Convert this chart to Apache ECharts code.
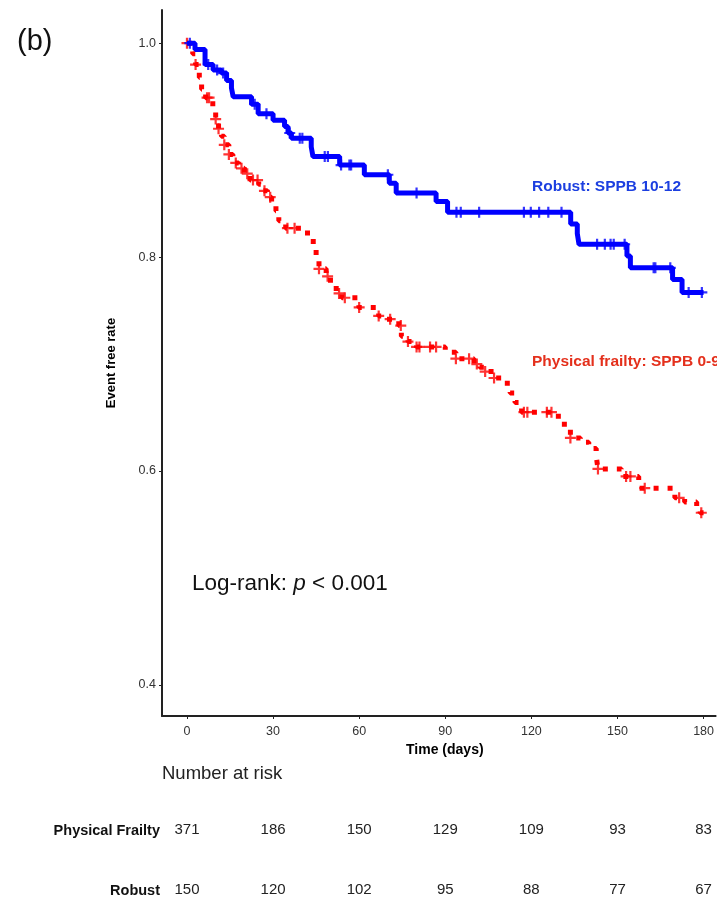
<!DOCTYPE html>
<html>
<head>
<meta charset="utf-8">
<script src="https://cdn.jsdelivr.net/npm/echarts@6/dist/echarts.min.js"></script>
<style>
  html, body { margin: 0; padding: 0; background: #fff; }
  #chart { width: 717px; height: 905px; }
</style>
</head>
<body>
<div id="chart"></div>
<script>
// tick positions on the time axis (days)
const timeTicks = [0, 30, 60, 90, 120, 150, 180];
const rateTicks = [0.4, 0.6, 0.8, 1.0];

// Kaplan-Meier steps: [day, event free rate after the drop]
const frailtySteps = [
  [0, 1.0], [2, 0.990], [3, 0.980], [4.3, 0.968], [5.1, 0.957], [6.5, 0.949],
  [9, 0.940], [10, 0.929], [11, 0.920], [12, 0.913], [13, 0.905], [14.6, 0.896],
  [16, 0.888], [18, 0.883], [20, 0.878], [22, 0.872], [25, 0.868], [26.5, 0.862],
  [28, 0.856], [29.5, 0.851], [31, 0.843], [32, 0.834], [34.4, 0.827], [42, 0.818],
  [44, 0.810], [45, 0.799], [46, 0.789], [48.5, 0.782], [50, 0.775], [52, 0.766],
  [54, 0.762], [59.9, 0.753], [66.8, 0.745], [69, 0.742], [73.8, 0.736], [74.7, 0.726],
  [77, 0.721], [80, 0.716], [90, 0.711], [93.7, 0.705], [100, 0.700], [102, 0.697],
  [103.9, 0.693], [107, 0.687], [110.5, 0.682], [112.6, 0.673], [114.3, 0.664],
  [116.6, 0.655], [129.4, 0.648], [131.5, 0.640], [133.6, 0.631], [137.1, 0.627],
  [140, 0.621], [142.6, 0.614], [143.2, 0.602], [151.4, 0.595], [157.4, 0.584],
  [170, 0.575], [173.4, 0.571], [177.6, 0.567], [178.8, 0.561], [180, 0.561]
];
const robustSteps = [
  [0, 1.0], [2.8, 0.994], [6.3, 0.980], [9.1, 0.975], [12, 0.972], [13.8, 0.965],
  [15.5, 0.958], [16.1, 0.950], [22.5, 0.943], [24.8, 0.934], [30, 0.928], [34, 0.922],
  [35.2, 0.916], [36.4, 0.911], [43.3, 0.903], [43.9, 0.894], [53.2, 0.886],
  [61.8, 0.877], [70.5, 0.869], [72.9, 0.860], [86.8, 0.852], [90.8, 0.842],
  [133.7, 0.831], [136, 0.822], [136.6, 0.812], [153.3, 0.801], [154.5, 0.790],
  [169.2, 0.779], [172.5, 0.767], [180, 0.767]
];

// censoring times (days)
const frailtyCensor = [0, 3, 7, 7.7, 10, 11, 13, 14.6, 17, 19, 21, 23, 24.6, 27, 29,
  35, 37.5, 46, 49, 53, 55, 60, 66.8, 70.8, 74.5, 77, 80, 81, 84.7, 86.8, 93.7, 98.3,
  101, 103.9, 107, 117.4, 118.6, 125.4, 127, 133.6, 143.2, 153, 154.5, 159.5, 171.5, 179.2];
const robustCensor = [1, 7.4, 10.5, 12.6, 23.6, 27.7, 35.8, 39.3, 40.2, 48, 49.1, 53.7,
  56.6, 57.2, 70, 80, 93.9, 95.4, 101.8, 117.4, 119.8, 122.7, 125.9, 130.5, 142.9, 145.6,
  147.6, 148.7, 152.5, 162.6, 163.2, 168.4, 174.8, 179.4];

// number at risk table
const frailtyAtRisk = [371, 186, 150, 129, 109, 93, 83];
const robustAtRisk = [150, 120, 102, 95, 88, 77, 67];

const font = '"Liberation Sans", Arial, sans-serif';
const plusPath = 'path://M4,0H6V4H10V6H6V10H4V6H0V4H4Z';

// level of the step curve at time t
function levelAt(steps, t) {
  let v = steps[0][1];
  for (const s of steps) {
    if (s[0] <= t) v = s[1];
  }
  return v;
}

const chart = echarts.init(document.getElementById('chart'));

chart.setOption({
  animation: false,
  textStyle: { fontFamily: font },
  grid: { left: 162, right: 0, top: 10, bottom: 189, containLabel: false },
  xAxis: {
    type: 'value',
    min: -8.7,
    max: 184.2,
    name: 'Time (days)',
    nameLocation: 'middle',
    nameGap: 27,
    nameTextStyle: { fontWeight: 'bold', fontSize: 14, color: '#000', padding: [0, 0, 0, 12] },
    axisLine: { show: true, onZero: false, lineStyle: { color: '#222', width: 2 } },
    axisTick: { show: true, length: 3, customValues: timeTicks, lineStyle: { color: '#222' } },
    axisLabel: { customValues: timeTicks, fontSize: 12.5, color: '#333', margin: 9 },
    splitLine: { show: false }
  },
  yAxis: {
    type: 'value',
    min: 0.371,
    max: 1.031,
    name: 'Event free rate',
    nameLocation: 'middle',
    nameRotate: 90,
    nameGap: 44,
    nameTextStyle: { fontWeight: 'bold', fontSize: 13, color: '#000' },
    axisLine: { show: true, onZero: false, lineStyle: { color: '#222', width: 2 } },
    axisTick: { show: true, length: 3, customValues: rateTicks, lineStyle: { color: '#222' } },
    axisLabel: {
      customValues: rateTicks,
      formatter: v => v.toFixed(1),
      fontSize: 12.5, color: '#333', margin: 6
    },
    splitLine: { show: false }
  },
  series: [
    {
      type: 'line',
      step: 'end',
      data: frailtySteps,
      symbol: 'none',
      lineStyle: { color: '#ff0000', width: 5, type: [5, 9], cap: 'butt' },
      z: 2
    },
    {
      type: 'scatter',
      data: frailtyCensor.map(t => [t, levelAt(frailtySteps, t)]),
      symbol: plusPath,
      symbolSize: 11,
      itemStyle: { color: '#ff0000' },
      z: 3
    },
    {
      type: 'line',
      step: 'end',
      data: robustSteps,
      symbol: 'none',
      lineStyle: { color: '#0000ff', width: 5 },
      z: 4
    },
    {
      type: 'scatter',
      data: robustCensor.map(t => [t, levelAt(robustSteps, t)]),
      symbol: plusPath,
      symbolSize: 11,
      itemStyle: { color: '#0000ff' },
      z: 5
    }
  ]
});

// texts placed after the axes exist
const xOf = t => chart.convertToPixel({ xAxisIndex: 0 }, t);
const numStyle = { fontSize: 15, fill: '#222', fontFamily: font, align: 'center', verticalAlign: 'middle' };

const graphics = [
  { type: 'text', left: 17, top: 27, style: { text: '(b)', fontSize: 29, fill: '#111', fontFamily: font } },
  {
    type: 'text', left: 192, top: 572,
    style: {
      text: '{n|Log-rank: }{i|p}{n| < 0.001}',
      fontFamily: font,
      rich: {
        n: { fontSize: 22.5, fill: '#111', fontFamily: font },
        i: { fontSize: 22.5, fill: '#111', fontFamily: font, fontStyle: 'italic' }
      }
    }
  },
  { type: 'text', left: 532, top: 179, style: { text: 'Robust: SPPB 10-12', fontSize: 15.5, fontWeight: 'bold', fill: '#1c3fe0', fontFamily: font } },
  { type: 'text', left: 532, top: 354, style: { text: 'Physical frailty: SPPB 0-9', fontSize: 15.5, fontWeight: 'bold', fill: '#e4301c', fontFamily: font } },
  { type: 'text', left: 162, top: 764, style: { text: 'Number at risk', fontSize: 18.5, fill: '#222', fontFamily: font } },
  { type: 'text', x: 160, y: 831, style: { text: 'Physical Frailty', fontSize: 14.5, fontWeight: 'bold', fill: '#111', fontFamily: font, align: 'right', verticalAlign: 'middle' } },
  { type: 'text', x: 160, y: 891, style: { text: 'Robust', fontSize: 14.5, fontWeight: 'bold', fill: '#111', fontFamily: font, align: 'right', verticalAlign: 'middle' } }
];
timeTicks.forEach((t, i) => {
  graphics.push({ type: 'text', x: xOf(t), y: 830, style: Object.assign({ text: String(frailtyAtRisk[i]) }, numStyle) });
  graphics.push({ type: 'text', x: xOf(t), y: 890, style: Object.assign({ text: String(robustAtRisk[i]) }, numStyle) });
});

chart.setOption({ graphic: graphics });
</script>
</body>
</html>
